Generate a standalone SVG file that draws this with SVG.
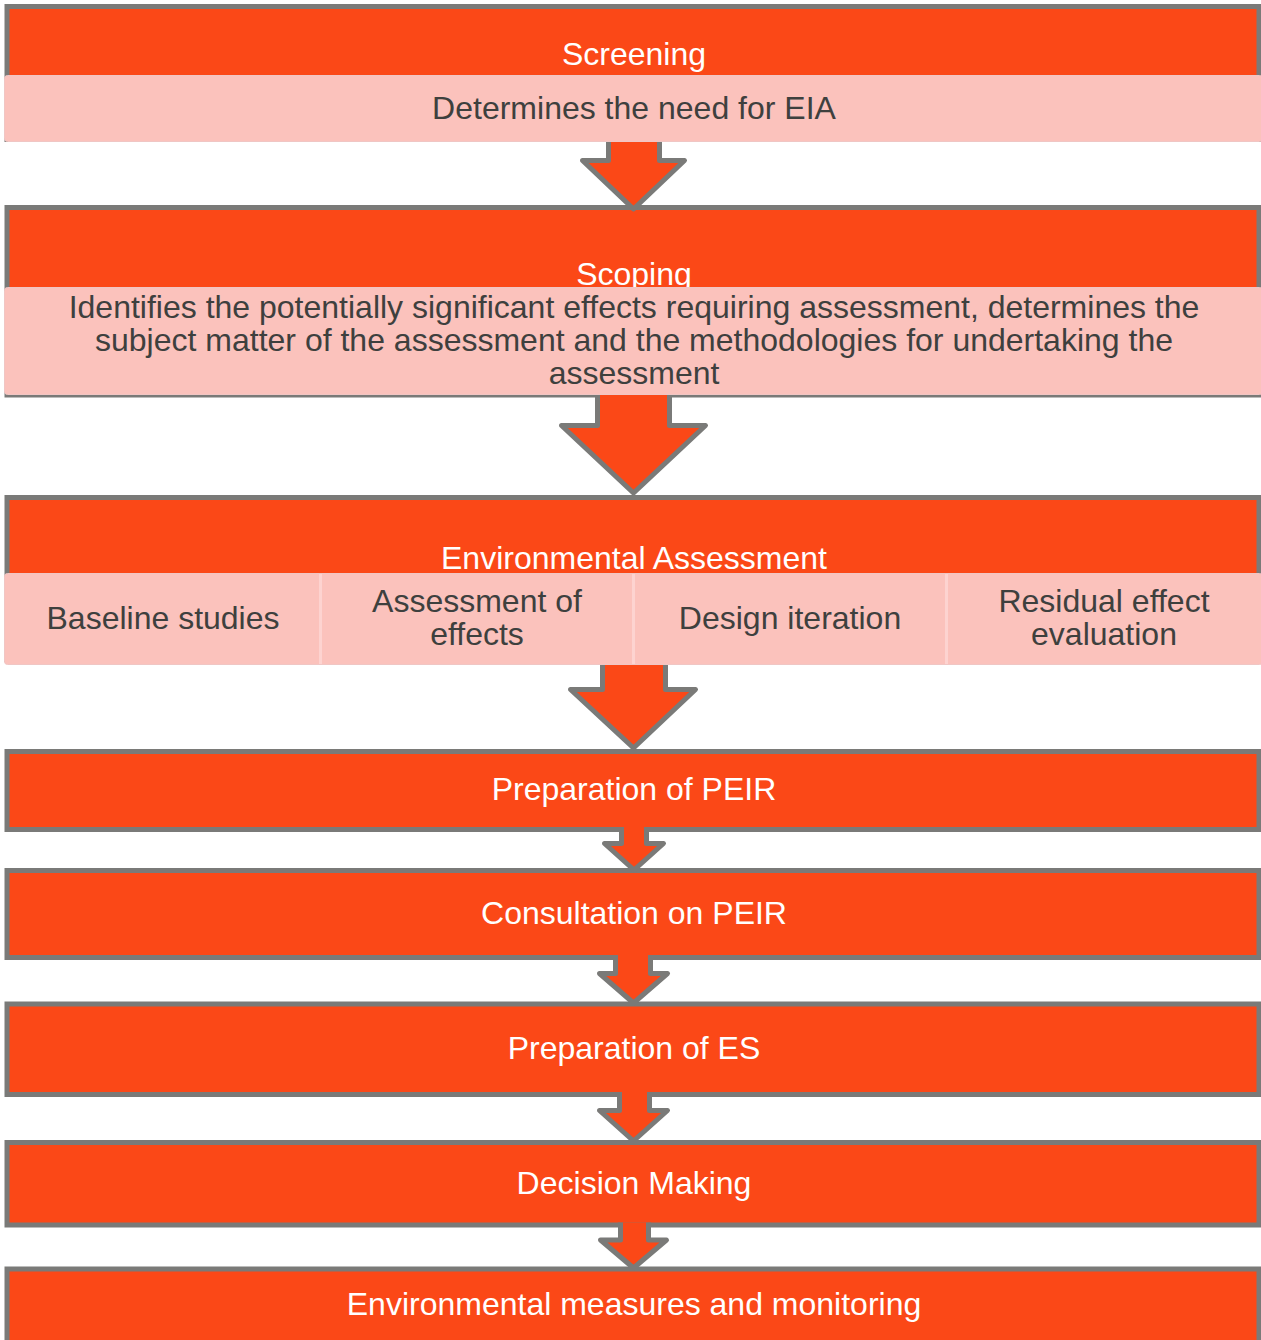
<svg xmlns="http://www.w3.org/2000/svg" width="1261" height="1340" viewBox="0 0 1261 1340">
<style>
.box{fill:#FB4817;stroke:#7A7A78;stroke-width:5}
.band{fill:#FBC2BC;stroke:#F0C6C4;stroke-width:1}
.sep{fill:#FDD3D0}
.wt{font-family:"Liberation Sans",Arial,sans-serif;font-size:32px;fill:#FFFFFF;text-anchor:middle}
.dt{font-family:"Liberation Sans",Arial,sans-serif;font-size:32px;fill:#3E403E;text-anchor:middle}
.afill{fill:#FB4817;stroke:none}
.aline{fill:none;stroke:#7A7A78;stroke-width:5;stroke-linejoin:round}
</style>
<rect width="1261" height="1340" fill="#FFFFFF"/>
<g id="screening">
<rect class="box" x="7" y="6.5" width="1252" height="133"/>
<text class="wt" x="634" y="64.5">Screening</text>
<rect class="band" x="4.5" y="75.5" width="1258" height="66" rx="3"/>
<text class="dt" x="634" y="119">Determines the need for EIA</text>
</g>
<g id="scoping">
<rect class="box" x="7" y="207.5" width="1252" height="187.5"/>
<text class="wt" x="634" y="285">Scoping</text>
<rect class="band" x="4.5" y="287.5" width="1258" height="107" rx="3"/>
<text class="dt" x="634" y="318">Identifies the potentially significant effects requiring assessment, determines the</text>
<text class="dt" x="634" y="351">subject matter of the assessment and the methodologies for undertaking the</text>
<text class="dt" x="634" y="384">assessment</text>
</g>
<g id="environmental-assessment">
<rect class="box" x="7" y="497.5" width="1252" height="162"/>
<text class="wt" x="634" y="568.5">Environmental Assessment</text>
<rect class="band" x="4.5" y="573.5" width="1258" height="91" rx="3"/>
<rect class="sep" x="319" y="574" width="3" height="90"/>
<rect class="sep" x="632" y="574" width="3" height="90"/>
<rect class="sep" x="945" y="574" width="3" height="90"/>
<text class="dt" x="163" y="629">Baseline studies</text>
<text class="dt" x="477" y="612">Assessment of</text>
<text class="dt" x="477" y="645">effects</text>
<text class="dt" x="790" y="629">Design iteration</text>
<text class="dt" x="1104" y="612">Residual effect</text>
<text class="dt" x="1104" y="645">evaluation</text>
</g>
<g id="preparation-peir">
<rect class="box" x="7" y="751.5" width="1252" height="78"/>
<text class="wt" x="634" y="800">Preparation of PEIR</text>
</g>
<g id="consultation-peir">
<rect class="box" x="7" y="870.5" width="1252" height="87"/>
<text class="wt" x="634" y="924">Consultation on PEIR</text>
</g>
<g id="preparation-es">
<rect class="box" x="7" y="1004" width="1252" height="90.5"/>
<text class="wt" x="634" y="1059">Preparation of ES</text>
</g>
<g id="decision-making">
<rect class="box" x="7" y="1142.5" width="1252" height="82.5"/>
<text class="wt" x="634" y="1194">Decision Making</text>
</g>
<g id="environmental-measures">
<rect class="box" x="7" y="1269" width="1252" height="90"/>
<text class="wt" x="634" y="1315">Environmental measures and monitoring</text>
</g>
<g id="connectors">
<g id="arrow1">
<polygon class="afill" points="608.5,142 659.5,142 659.5,160.5 684.5,160.5 633.5,209 582.5,160.5 608.5,160.5"/>
<polyline class="aline" points="608.5,142 608.5,160.5 582.5,160.5 633.5,209 684.5,160.5 659.5,160.5 659.5,142"/>
</g>
<g id="arrow2">
<polygon class="afill" points="597.5,395 669.5,395 669.5,425.5 705.5,425.5 633.5,493 561.5,425.5 597.5,425.5"/>
<polyline class="aline" points="597.5,395 597.5,425.5 561.5,425.5 633.5,493 705.5,425.5 669.5,425.5 669.5,395"/>
</g>
<g id="arrow3">
<polygon class="afill" points="602.5,665 665.5,665 665.5,689.5 695.5,689.5 633.5,748 570.5,689.5 602.5,689.5"/>
<polyline class="aline" points="602.5,665 602.5,689.5 570.5,689.5 633.5,748 695.5,689.5 665.5,689.5 665.5,665"/>
</g>
<g id="arrow4">
<polygon class="afill" points="621.5,827 646.5,827 646.5,843.5 663.5,843.5 634,870 604.5,843.5 621.5,843.5"/>
<polyline class="aline" points="621.5,827 621.5,843.5 604.5,843.5 634,870 663.5,843.5 646.5,843.5 646.5,827"/>
</g>
<g id="arrow5">
<polygon class="afill" points="615.5,955 650.5,955 650.5,973.5 667.5,973.5 633.5,1003 599.5,973.5 615.5,973.5"/>
<polyline class="aline" points="615.5,955 615.5,973.5 599.5,973.5 633.5,1003 667.5,973.5 650.5,973.5 650.5,955"/>
</g>
<g id="arrow6">
<polygon class="afill" points="619.5,1092 649.5,1092 649.5,1110.5 667.5,1110.5 633.5,1141 599.5,1110.5 619.5,1110.5"/>
<polyline class="aline" points="619.5,1092 619.5,1110.5 599.5,1110.5 633.5,1141 667.5,1110.5 649.5,1110.5 649.5,1092"/>
</g>
<g id="arrow7">
<polygon class="afill" points="620.5,1222.5 648.5,1222.5 648.5,1240 666.5,1240 633.5,1268 600.5,1240 620.5,1240"/>
<polyline class="aline" points="620.5,1222.5 620.5,1240 600.5,1240 633.5,1268 666.5,1240 648.5,1240 648.5,1222.5"/>
</g>
</g>
</svg>
